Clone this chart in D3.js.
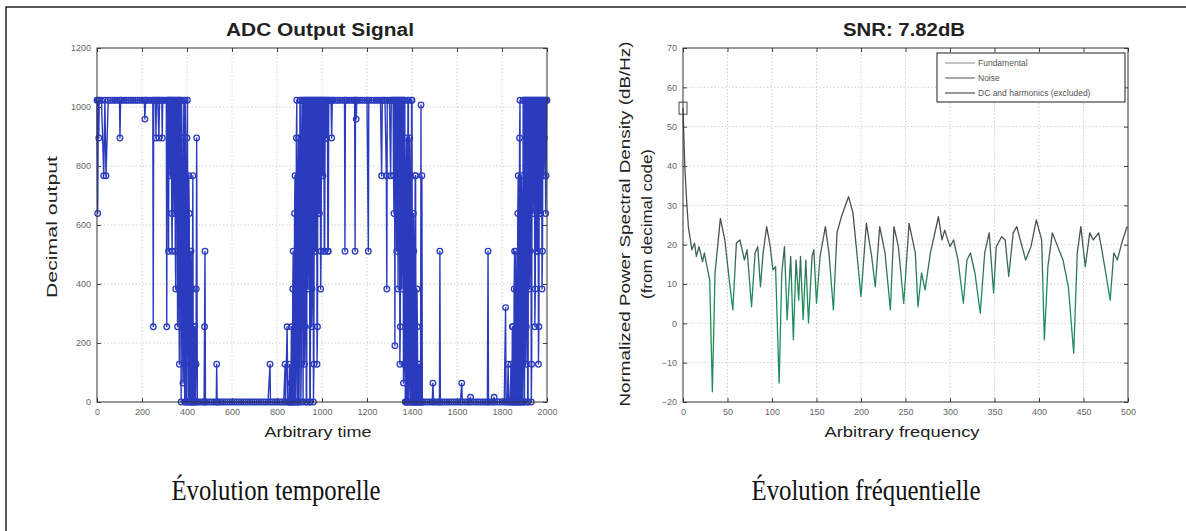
<!DOCTYPE html>
<html lang="fr">
<head>
<meta charset="UTF-8">
<title>ADC Output Signal / SNR</title>
<script src="https://cdnjs.cloudflare.com/ajax/libs/d3/7.8.5/d3.min.js"></script>
<style>
  body { margin: 0; background: #fff; }
  svg { display: block; font-family: "Liberation Sans", Arial, sans-serif; }
  .tick text { font-size: 9px; fill: #666; }
  .tick line { stroke: #444; }
  .grid line { stroke: #c4c4c4; stroke-width: 0.8; stroke-dasharray: 1.5,2; }
</style>
</head>
<body>
<svg width="1186" height="531"></svg>
<script>
// --- ADC output samples [time, code] ---
const highA = [[0,1023],[3,639],[6,1023],[8,895],[10,1023],[20,1023],[30,767],[35,1023],[40,767],[50,1023],
  [60,1023],[70,1023],[80,1023],[90,1023],[100,1023],[102,895],[105,1023],[110,1023],[120,1023],[130,1023],
  [140,1023],[150,1023],[160,1023],[170,1023],[180,1023],[190,1023],[200,1023],[210,1023],[213,959],[216,1023],
  [220,1023],[230,1023],[240,1023],[248,1023],[250,255],[252,1023],[260,1023],[262,895],[264,1023],[270,1023],
  [275,895],[278,1023],[280,1023],[288,1023],[290,895],[292,1023],[300,1023],[308,1023],[310,255],[312,1023],
  [316,1023],[318,511],[320,1023]];
const fallA = [[322,1023],[324,895],[326,767],[328,1023],[330,1023],[332,639],[334,511],[336,1023],[338,1023],[340,767],
  [342,639],[344,1023],[346,1023],[348,511],[350,383],[352,1023],[354,895],[356,1023],[358,255],[360,1023],
  [362,1023],[364,383],[366,128],[368,1023],[370,1023],[372,511],[374,0],[376,1023],[378,895],[380,255],
  [382,64],[384,767],[386,1023],[388,128],[390,0],[392,1023],[394,767],[396,0],[398,0],[400,895],
  [402,1023],[404,255],[406,0],[408,767],[410,639],[412,0],[414,0],[416,511],[418,511],[420,0],
  [422,0],[424,383],[426,767],[428,0],[430,0],[432,255],[434,255],[436,0],[438,0],[440,128],
  [441,383],[443,895],[446,0]];
const lowA = [[450,0],[460,0],[470,0],[476,0],[478,255],[480,511],[482,0],[490,0],[500,0],[510,0],
  [520,0],[530,0],[532,128],[534,0],[540,0],[550,0],[560,0],[570,0],[580,0],[590,0],
  [600,0],[610,0],[620,0],[630,0],[640,0],[650,0],[660,0],[670,0],[680,0],[690,0],
  [700,0],[710,0],[720,0],[730,0],[740,0],[750,0],[760,0],[769,128],[771,0],[780,0],
  [790,0],[800,0],[810,0],[820,0],[830,0],[836,128],[838,0],[845,255],[848,0]];
const riseA = [[852,0],[854,0],[856,128],[858,0],[860,0],[862,64],[864,255],[866,0],[868,0],[870,383],
  [872,511],[874,0],[876,0],[878,639],[880,767],[882,0],[884,128],[886,895],[888,1023],[890,0],
  [892,0],[894,767],[896,895],[898,0],[900,255],[902,1023],[904,1023],[906,0],[908,128],[910,895],
  [912,1023],[914,383],[916,0],[918,1023],[920,1023],[922,128],[924,255],[926,1023],[928,1023],[930,0],
  [932,0],[934,1023],[936,1023],[938,383],[940,511],[942,1023],[944,1023],[946,0],[948,0],[950,1023],
  [952,1023],[954,255],[956,383],[958,1023],[960,1023],[962,0],[964,128],[966,1023],[968,1023],[970,511],
  [972,511],[974,1023],[976,1023],[978,128],[980,255],[982,1023],[984,1023],[986,639],[988,639],[990,1023],
  [992,1023],[994,383],[996,511],[998,1023],[1000,1023],[1002,767],[1004,767],[1006,1023],[1008,1023],[1010,511],
  [1012,511],[1014,1023],[1016,1023],[1018,895],[1020,895],[1022,1023],[1024,1023],[1026,511],[1028,511],[1030,1023],
  [1032,1023]];
const highB = [[1040,1023],[1043,895],[1046,1023],[1050,1023],[1060,1023],[1070,1023],[1080,1023],[1090,1023],[1100,1023],[1102,511],
  [1104,1023],[1110,1023],[1120,1023],[1130,1023],[1140,1023],[1145,1023],[1147,511],[1149,1023],[1152,959],[1155,1023],
  [1160,1023],[1170,1023],[1180,1023],[1190,1023],[1200,1023],[1206,511],[1208,1023],[1220,1023],[1230,1023],[1240,1023],
  [1250,1023],[1260,1023],[1265,767],[1268,1023],[1275,1023],[1280,1023],[1286,767],[1288,383],[1290,1023],[1300,1023],
  [1305,767],[1308,1023],[1312,1023]];
const fallB = [[1316,1023],[1318,767],[1320,639],[1322,1023],[1324,191],[1326,1023],[1328,1023],[1330,767],[1332,511],[1334,1023],
  [1336,1023],[1338,383],[1340,767],[1342,1023],[1344,1023],[1346,128],[1348,255],[1350,1023],[1352,1023],[1354,383],
  [1356,511],[1358,1023],[1360,1023],[1362,64],[1364,128],[1366,1023],[1368,1023],[1370,0],[1372,0],[1374,767],
  [1376,895],[1378,0],[1380,0],[1382,1023],[1384,1023],[1386,0],[1388,64],[1390,895],[1392,767],[1394,0],
  [1396,0],[1398,1023],[1400,1023],[1402,0],[1404,0],[1406,639],[1408,511],[1410,0],[1412,0],[1414,767],
  [1416,767],[1418,0],[1420,0],[1422,383],[1424,255],[1426,0],[1428,0],[1430,128],[1432,128],[1434,0],
  [1436,0],[1438,0],[1440,1007],[1442,0],[1444,767],[1446,0]];
const lowB = [[1450,0],[1460,0],[1470,0],[1480,0],[1490,0],[1493,64],[1496,0],[1505,0],[1515,0],[1522,0],
  [1524,511],[1526,0],[1535,0],[1545,0],[1555,0],[1565,0],[1575,0],[1585,0],[1595,0],[1605,0],
  [1615,0],[1621,64],[1624,0],[1635,0],[1645,0],[1655,0],[1660,16],[1663,0],[1675,0],[1685,0],
  [1695,0],[1705,0],[1715,0],[1725,0],[1735,0],[1738,511],[1740,0],[1750,0],[1760,0],[1765,16],
  [1768,0],[1780,0],[1790,0],[1800,0],[1810,0],[1816,320],[1818,0],[1824,0],[1827,128],[1830,0],
  [1836,0]];
const riseB = [[1840,128],[1842,0],[1844,0],[1846,255],[1848,255],[1850,0],[1852,0],[1854,383],[1856,511],[1858,0],
  [1860,0],[1862,511],[1864,383],[1866,0],[1868,0],[1870,639],[1872,767],[1874,0],[1876,0],[1878,895],
  [1880,1023],[1882,0],[1884,0],[1886,767],[1888,639],[1890,0],[1892,128],[1894,1023],[1896,1023],[1898,0],
  [1900,0],[1902,1023],[1904,1023],[1906,128],[1908,255],[1910,1023],[1912,1023],[1914,0],[1916,0],[1918,1023],
  [1920,1023],[1922,383],[1924,511],[1926,1023],[1928,1023],[1930,0],[1932,128],[1934,1023],[1936,1023],[1938,639],
  [1940,767],[1942,1023],[1944,1023],[1946,255],[1948,383],[1950,1023],[1952,1023],[1954,511],[1956,511],[1958,1023],
  [1960,1023],[1962,128],[1964,255],[1966,1023],[1968,1023],[1970,639],[1972,639],[1974,1023],[1976,1023],[1978,383],
  [1980,511],[1982,1023],[1984,1023],[1986,767],[1988,895],[1990,1023],[1992,1023],[1994,639],[1996,767],[1998,1023],
  [2000,1023]];

const timeTicks = [0,200,400,600,800,1000,1200,1400,1600,1800,2000];
const codeTicks = [0,200,400,600,800,1000,1200];

// --- PSD ---
const specFreq = [0,2,4,6,10,13,15,18,22,24,27,30,33,36,42,47,52,56,60,64,69,72,77,81,84,87,90,94,98,101,
  104,108,111,114,117,121,124,127,130,132,135,138,141,145,147,150,154,160,164,169,173,178,186,191,195,
  200,206,212,216,221,227,233,237,242,248,254,261,264,268,272,278,287,291,294,300,304,309,315,319,323,
  328,334,339,344,349,352,358,362,366,371,375,381,385,391,397,403,406,410,415,421,427,433,439,443,447,
  452,457,461,467,470,475,480,484,488,494,499];
const specPow = [54.7,39.8,31.4,24.6,18.7,20.4,17,19.5,15.7,17.9,14.4,11,-17.4,12.8,26.7,21.2,11,3.4,20.4,21.2,
  16.1,18.7,4.2,17.9,19.5,9.3,17.9,24.6,19.5,13.6,14.4,-15.2,12.8,19.5,0.9,17,-4.2,16.1,5.9,17,
  0.9,16.1,0.1,17,18.7,5.1,17,24.6,17.9,3.4,23,27.1,32.2,28,18.7,6.8,25.4,17,9.3,24.6,
  17.9,3.4,24.6,19.5,5.1,25.4,17.9,4.2,12.8,8.5,17.9,27.1,21.2,23.7,19.5,21.2,16.1,5.1,16.1,17.9,
  12.8,2.6,17.9,23,7.7,19.5,22,21.2,11.9,23,24.6,19.5,16.1,19.5,26.3,21.2,-4.2,14.4,23,19.5,
  16.1,9.3,-7.6,17.9,24.6,14.4,23,21.2,23,19.5,12.8,5.9,17.9,16.1,21.2,24.6];
const fundamental = [0, 54.7];
const freqTicks = [0,50,100,150,200,250,300,350,400,450,500];
const dbTicks = [-20,-10,0,10,20,30,40,50,60,70];
const legendItems = ["Fundamental", "Noise", "DC and harmonics (excluded)"];
const legendColors = ["#8a8a8a", "#555", "#333"];

const svg = d3.select("svg");
const blue = "#2b3bbd";

// figure frame (top + left edge only, the rest is cropped)
svg.append("path").attr("d", "M6,531V7H1186").attr("fill", "none").attr("stroke", "#222").attr("stroke-width", 1.5);

function panel(x, y, xt, yt) {
  const g = svg.append("g");
  const [x0, x1] = x.range(), [y0, y1] = y.range();
  const grid = g.append("g").attr("class", "grid");
  grid.selectAll(".gx").data(xt.slice(1, -1)).enter().append("line")
    .attr("x1", d => x(d)).attr("x2", d => x(d)).attr("y1", y0).attr("y2", y1);
  grid.selectAll(".gy").data(yt.slice(1, -1)).enter().append("line")
    .attr("y1", d => y(d)).attr("y2", d => y(d)).attr("x1", x0).attr("x2", x1);
  const fmt = d3.format("d");
  g.append("g").attr("transform", `translate(0,${y0})`)
    .call(d3.axisBottom(x).tickValues(xt).tickFormat(fmt).tickSize(-4).tickPadding(7));
  g.append("g").attr("transform", `translate(${x0},0)`)
    .call(d3.axisLeft(y).tickValues(yt).tickFormat(fmt).tickSize(-4).tickPadding(6));
  g.append("g").attr("transform", `translate(0,${y1})`)
    .call(d3.axisTop(x).tickValues(xt).tickSize(-4).tickFormat(""));
  g.append("g").attr("transform", `translate(${x1},0)`)
    .call(d3.axisRight(y).tickValues(yt).tickSize(-4).tickFormat(""));
  g.selectAll(".domain").remove();
  return g;
}

function frame(g, x, y) {
  const [x0, x1] = x.range(), [y0, y1] = y.range();
  g.append("rect").attr("x", x0).attr("y", y1).attr("width", x1 - x0).attr("height", y0 - y1)
    .attr("fill", "none").attr("stroke", "#333").attr("stroke-width", 1);
}

// ---------- left panel ----------
const xL = d3.scaleLinear().domain([0, 2000]).range([97, 547]);
const yL = d3.scaleLinear().domain([0, 1200]).range([402, 48]);
const gL = panel(xL, yL, timeTicks, codeTicks);
const adc = [].concat(highA, fallA, lowA, riseA, highB, fallB, lowB, riseB);

gL.append("path").datum(adc)
  .attr("d", d3.line().x(d => xL(d[0])).y(d => yL(d[1])))
  .attr("fill", "none").attr("stroke", blue).attr("stroke-width", 1.4)
  .attr("stroke-linejoin", "round");
gL.append("g").selectAll("circle").data(adc).enter().append("circle")
  .attr("cx", d => xL(d[0])).attr("cy", d => yL(d[1])).attr("r", 2.8)
  .attr("fill", "none").attr("stroke", blue).attr("stroke-width", 1.3);
frame(gL, xL, yL);

svg.append("text").attr("x", 320).attr("y", 36).attr("text-anchor", "middle")
  .attr("font-weight", "bold").attr("font-size", 18).attr("textLength", 188)
  .attr("lengthAdjust", "spacingAndGlyphs").attr("fill", "#222").text("ADC Output Signal");
svg.append("text").attr("x", 318).attr("y", 437).attr("text-anchor", "middle")
  .attr("font-size", 14).attr("textLength", 107).attr("lengthAdjust", "spacingAndGlyphs")
  .attr("fill", "#222").text("Arbitrary time");
svg.append("text").attr("transform", "translate(57,227) rotate(-90)").attr("text-anchor", "middle")
  .attr("font-size", 14).attr("textLength", 142).attr("lengthAdjust", "spacingAndGlyphs")
  .attr("fill", "#222").text("Decimal output");

// ---------- right panel ----------
const xR = d3.scaleLinear().domain([0, 500]).range([683, 1128]);
const yR = d3.scaleLinear().domain([-20, 70]).range([402, 48]);
const gR = panel(xR, yR, freqTicks, dbTicks);

const grad = svg.append("defs").append("linearGradient").attr("id", "psdStroke")
  .attr("gradientUnits", "userSpaceOnUse").attr("x1", 0).attr("x2", 0)
  .attr("y1", yR(24)).attr("y2", yR(8));
grad.append("stop").attr("offset", 0).attr("stop-color", "#4d4d4d");
grad.append("stop").attr("offset", 1).attr("stop-color", "#1f8c5c");

gR.append("path").datum(specFreq.map((f, i) => [f, specPow[i]]))
  .attr("d", d3.line().x(d => xR(d[0])).y(d => yR(d[1])))
  .attr("fill", "none").attr("stroke", "url(#psdStroke)").attr("stroke-width", 1.3)
  .attr("stroke-linejoin", "round");
gR.append("rect").attr("x", xR(fundamental[0]) - 4).attr("y", yR(fundamental[1]) - 6)
  .attr("width", 8).attr("height", 12).attr("fill", "none").attr("stroke", "#444");
frame(gR, xR, yR);

// legend
const lg = svg.append("g").attr("transform", "translate(937,53)");
lg.append("rect").attr("width", 188).attr("height", 49).attr("fill", "#fff")
  .attr("stroke", "#444").attr("stroke-width", 1.2);
legendItems.forEach((name, i) => {
  const yy = 10 + i * 15;
  lg.append("line").attr("x1", 8).attr("x2", 38).attr("y1", yy).attr("y2", yy)
    .attr("stroke", legendColors[i]).attr("stroke-width", 1);
  lg.append("text").attr("x", 41).attr("y", yy + 3).attr("font-size", 8.5)
    .attr("fill", "#555").text(name);
});

svg.append("text").attr("x", 904).attr("y", 36).attr("text-anchor", "middle")
  .attr("font-weight", "bold").attr("font-size", 18).attr("textLength", 122)
  .attr("lengthAdjust", "spacingAndGlyphs").attr("fill", "#222").text("SNR: 7.82dB");
svg.append("text").attr("x", 902).attr("y", 437).attr("text-anchor", "middle")
  .attr("font-size", 14).attr("textLength", 155).attr("lengthAdjust", "spacingAndGlyphs")
  .attr("fill", "#222").text("Arbitrary frequency");
svg.append("text").attr("transform", "translate(630,224) rotate(-90)").attr("text-anchor", "middle")
  .attr("font-size", 14).attr("textLength", 365).attr("lengthAdjust", "spacingAndGlyphs")
  .attr("fill", "#222").text("Normalized Power Spectral Density (dB/Hz)");
svg.append("text").attr("transform", "translate(652,224) rotate(-90)").attr("text-anchor", "middle")
  .attr("font-size", 14).attr("textLength", 150).attr("lengthAdjust", "spacingAndGlyphs")
  .attr("fill", "#222").text("(from decimal code)");

// captions
svg.append("text").attr("x", 276).attr("y", 500).attr("text-anchor", "middle")
  .attr("font-family", "'Liberation Serif', 'Times New Roman', serif").attr("font-size", 30)
  .attr("textLength", 209).attr("lengthAdjust", "spacingAndGlyphs").attr("fill", "#111")
  .text("Évolution temporelle");
svg.append("text").attr("x", 866).attr("y", 500).attr("text-anchor", "middle")
  .attr("font-family", "'Liberation Serif', 'Times New Roman', serif").attr("font-size", 30)
  .attr("textLength", 229).attr("lengthAdjust", "spacingAndGlyphs").attr("fill", "#111")
  .text("Évolution fréquentielle");
</script>
</body>
</html>
